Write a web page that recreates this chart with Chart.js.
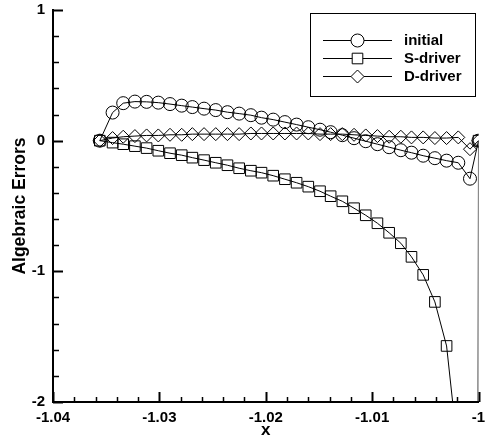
<!DOCTYPE html>
<html>
<head>
<meta charset="utf-8">
<title>Algebraic Errors</title>
<script src="https://cdn.jsdelivr.net/npm/chart.js@4.4.1/dist/chart.umd.min.js"></script>
<style>
  html, body { margin: 0; padding: 0; background: #fff; }
  #wrap { width: 487px; height: 439px; }
</style>
</head>
<body>
<div id="wrap"><canvas id="errChart" width="487" height="439"></canvas></div>
<script>
// sample locations along x
const xValues = [
  -1.0356, -1.0344, -1.0334, -1.0323, -1.0312, -1.0301, -1.0290, -1.0279,
  -1.0269, -1.0258, -1.0247, -1.0236, -1.0225, -1.0214, -1.0204, -1.0193,
  -1.0182, -1.0171, -1.0160, -1.0149, -1.0139, -1.0128, -1.0117, -1.0106,
  -1.0095, -1.0084, -1.0073, -1.0063, -1.0052, -1.0041, -1.0030, -1.0019,
  -1.0008, -1.0
];

const initialErr = [
  0, 0.215, 0.287, 0.299, 0.297, 0.291, 0.280, 0.268,
  0.257, 0.245, 0.234, 0.218, 0.207, 0.195, 0.176, 0.161,
  0.142, 0.123, 0.103, 0.084, 0.065, 0.042, 0.019, -0.004,
  -0.027, -0.050, -0.073, -0.092, -0.115, -0.134, -0.153, -0.169,
  -0.291, 0
];

const sDriverErr = [
  0, -0.015, -0.027, -0.042, -0.057, -0.077, -0.096, -0.111,
  -0.130, -0.149, -0.169, -0.188, -0.211, -0.230, -0.245, -0.268,
  -0.295, -0.322, -0.352, -0.387, -0.425, -0.464, -0.517, -0.571,
  -0.632, -0.705, -0.785, -0.889, -1.027, -1.234, -1.571, -2.40,
  -40, 0
];

const dDriverErr = [
  0, 0.02, 0.03, 0.035, 0.04, 0.04, 0.045, 0.045,
  0.05, 0.05, 0.05, 0.05, 0.05, 0.055, 0.055, 0.055,
  0.055, 0.055, 0.055, 0.05, 0.05, 0.05, 0.045, 0.04,
  0.035, 0.03, 0.03, 0.025, 0.025, 0.02, 0.02, 0.025,
  -0.065, 0
];

const seriesNames = ['initial', 'S-driver', 'D-driver'];
const xTicks = [-1.04, -1.03, -1.02, -1.01, -1];
const yTicks = [-2, -1, 0, 1];

const FONT = "'Liberation Sans', Arial, Helvetica, sans-serif";
Chart.defaults.font.family = FONT;
Chart.defaults.font.weight = 'bold';
Chart.defaults.color = '#000';

function toPoints(ys) {
  return xValues.map((x, i) => ({ x: x, y: ys[i] }));
}

function makeSeries(label, ys, style, radius) {
  return {
    label: label,
    data: toPoints(ys),
    showLine: true,
    borderColor: '#000',
    borderWidth: 1,
    pointStyle: style,
    pointRadius: radius,
    pointHoverRadius: radius,
    pointBorderColor: '#000',
    pointBorderWidth: 1,
    pointBackgroundColor: 'rgba(0,0,0,0)',
    tension: 0,
    clip: 0
  };
}

// inward major/minor ticks, Tecplot style
const innerTicks = {
  id: 'innerTicks',
  afterDatasetsDraw(chart) {
    const { ctx, chartArea, scales } = chart;
    ctx.save();
    ctx.strokeStyle = '#000';
    for (let i = 0; i <= 20; i++) {
      const v = -1.04 + i * 0.002;
      const px = Math.round(scales.x.getPixelForValue(v)) + 0.5;
      const major = i % 5 === 0;
      ctx.lineWidth = major ? 2 : 1.5;
      ctx.beginPath();
      ctx.moveTo(px, chartArea.bottom);
      ctx.lineTo(px, chartArea.bottom - (major ? 10 : 5));
      ctx.stroke();
    }
    for (let i = 0; i <= 15; i++) {
      const v = -2 + i * 0.2;
      const py = Math.round(scales.y.getPixelForValue(v)) + 0.5;
      const major = i % 5 === 0;
      ctx.lineWidth = major ? 2 : 1.5;
      ctx.beginPath();
      ctx.moveTo(chartArea.left, py);
      ctx.lineTo(chartArea.left + (major ? 10 : 6), py);
      ctx.stroke();
    }
    ctx.restore();
  }
};

// boxed legend in the upper right corner
const boxLegend = {
  id: 'boxLegend',
  afterDraw(chart) {
    const ctx = chart.ctx;
    const left = 310.5, top = 13.5, w = 165, h = 83;
    ctx.save();
    ctx.fillStyle = '#fff';
    ctx.fillRect(left, top, w, h);
    ctx.strokeStyle = '#000';
    ctx.lineWidth = 1;
    ctx.strokeRect(left, top, w, h);
    chart.data.datasets.forEach((ds, i) => {
      const y = 40 + i * 18;
      ctx.beginPath();
      ctx.moveTo(323, y + 0.5);
      ctx.lineTo(392, y + 0.5);
      ctx.stroke();
      ctx.fillStyle = '#fff';
      Chart.helpers.drawPoint(ctx, {
        pointStyle: ds.pointStyle,
        radius: ds.pointRadius,
        rotation: 0,
        borderWidth: 1
      }, 357.5, y + 0.5);
      ctx.fillStyle = '#000';
      ctx.font = 'bold 15px ' + FONT;
      ctx.textAlign = 'left';
      ctx.textBaseline = 'middle';
      ctx.fillText(ds.label, 404, y + 1);
    });
    ctx.restore();
  }
};

new Chart(document.getElementById('errChart'), {
  type: 'scatter',
  data: {
    datasets: [
      makeSeries(seriesNames[0], initialErr, 'circle', 6.5),
      makeSeries(seriesNames[1], sDriverErr, 'rect', 7.5),
      makeSeries(seriesNames[2], dDriverErr, 'rectRot', 6.5)
    ]
  },
  options: {
    responsive: false,
    animation: false,
    layout: { padding: { top: 10, right: 6, left: 0, bottom: 0 } },
    plugins: {
      legend: { display: false },
      tooltip: { enabled: false }
    },
    scales: {
      x: {
        type: 'linear',
        min: -1.04,
        max: -1,
        afterBuildTicks: s => { s.ticks = xTicks.map(v => ({ value: v })); },
        afterFit: s => { s.height = 37; s.paddingLeft = 0; s.paddingRight = 0; },
        grid: { display: false, drawTicks: false },
        border: { display: true, color: '#000', width: 2 },
        ticks: {
          padding: 7,
          maxRotation: 0,
          autoSkip: false,
          font: { size: 15, weight: 'bold' },
          callback: v => String(Number(v.toFixed(2)))
        },
        title: {
          display: true,
          text: 'x',
          font: { size: 17, weight: 'bold' },
          padding: { top: 0, bottom: -2 }
        }
      },
      y: {
        type: 'linear',
        min: -2,
        max: 1,
        afterBuildTicks: s => { s.ticks = yTicks.map(v => ({ value: v })); },
        afterFit: s => { s.width = 53; s.paddingTop = 0; s.paddingBottom = 0; },
        grid: { display: false, drawTicks: false },
        border: { display: true, color: '#000', width: 2 },
        ticks: {
          padding: 8,
          autoSkip: false,
          font: { size: 15, weight: 'bold' },
          callback: v => String(v)
        },
        title: {
          display: true,
          text: 'Algebraic Errors',
          font: { size: 17.5, weight: 'bold' },
          padding: { top: 10, bottom: 0 }
        }
      }
    }
  },
  plugins: [innerTicks, boxLegend]
});
</script>
</body>
</html>
